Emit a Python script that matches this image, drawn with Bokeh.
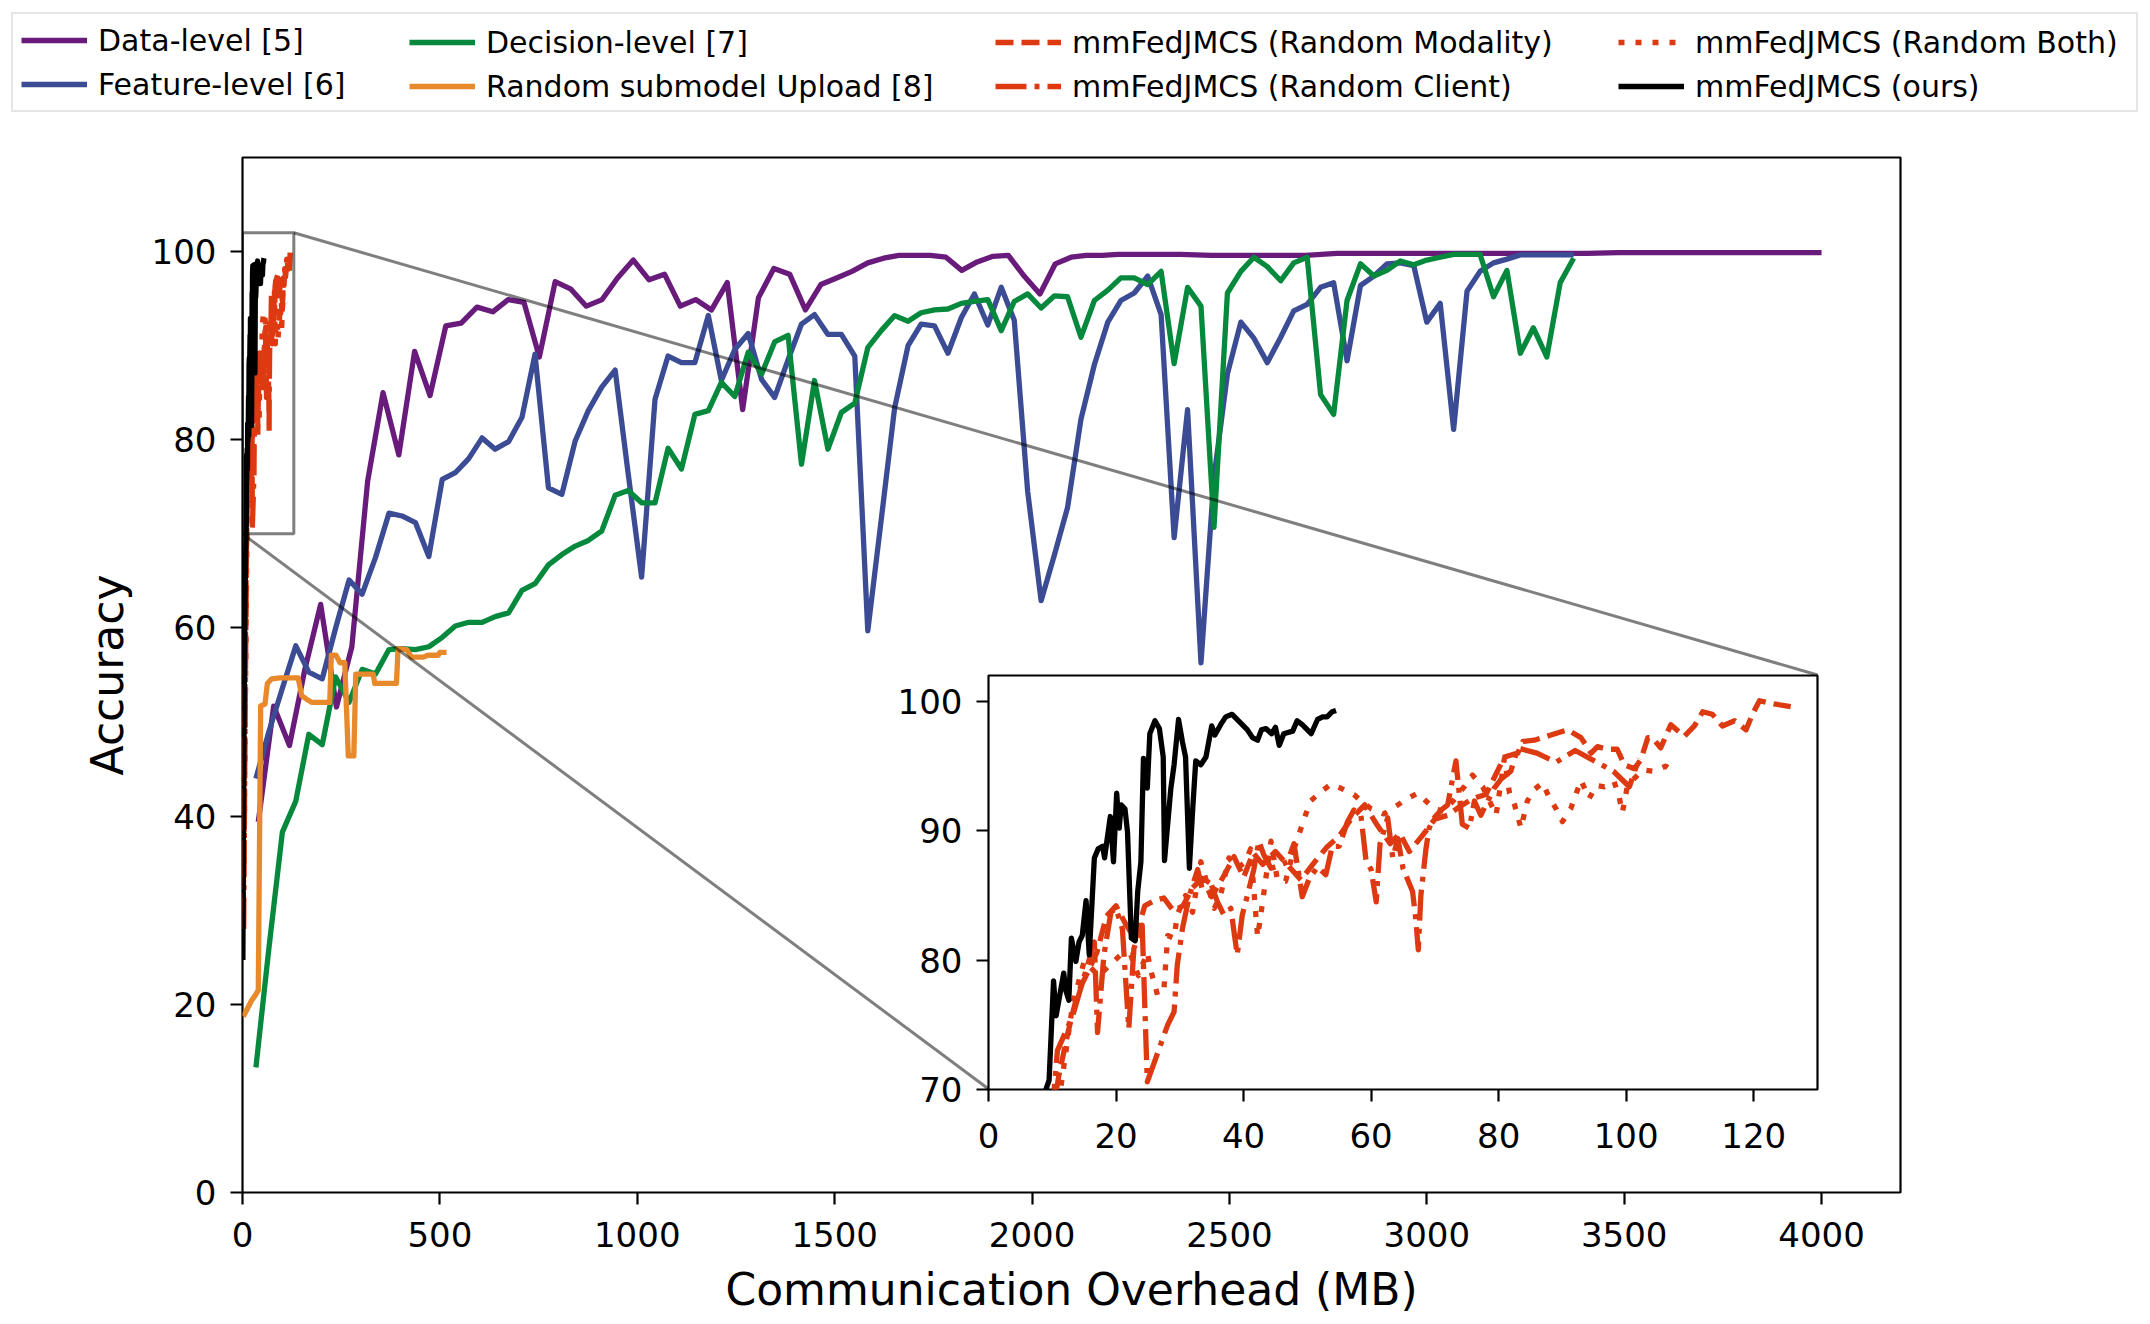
from bokeh.plotting import figure
from bokeh.models import Range1d, FixedTicker, Legend, LegendItem
from bokeh.layouts import column
from bokeh.embed import file_html
from bokeh.resources import INLINE

# ---------------------------------------------------------------- data
DATA_LEVEL_X = [40, 79, 119, 158, 198, 238, 277, 317, 356, 396, 436, 475, 515, 554, 594, 634, 673, 713,
                752, 792, 832, 871, 911, 950, 990, 1030, 1069, 1109, 1148, 1188, 1228, 1267, 1307, 1346,
                1386, 1426, 1465, 1505, 1544, 1584, 1624, 1663, 1703, 1742, 1782, 1822, 1861, 1901, 1940,
                1980, 2020, 2059, 2099, 2138, 2178, 2218, 2297, 2376, 2455, 2535, 2614, 2693, 2772, 2851,
                2931, 3010, 3089, 3168, 3248, 3327, 3406, 3485, 3564, 3644, 3723, 3802, 3881, 3960, 4000]
DATA_LEVEL_Y = [39.4, 51.7, 47.5, 55.6, 62.5, 51.6, 58.0, 75.6, 85.0, 78.4, 89.4, 84.7, 92.1, 92.4, 94.1,
                93.6, 94.9, 94.6, 88.8, 96.8, 96.0, 94.2, 94.9, 97.2, 99.1, 97.0, 97.6, 94.2, 94.9, 93.8,
                96.7, 83.2, 95.1, 98.2, 97.6, 93.8, 96.5, 97.2, 97.9, 98.8, 99.3, 99.6, 99.6, 99.6, 99.4,
                98.0, 98.9, 99.5, 99.6, 97.4, 95.5, 98.7, 99.4, 99.6, 99.6, 99.7, 99.7, 99.7, 99.6, 99.6,
                99.6, 99.6, 99.8, 99.8, 99.8, 99.8, 99.8, 99.8, 99.8, 99.8, 99.8, 99.9, 99.9, 99.9, 99.9,
                99.9, 99.9, 99.9, 99.9]

ROUND_X = [34, 67, 101, 135, 168, 202, 236, 270, 303, 337, 371, 404, 438, 472, 506, 539, 573, 607, 640,
           674, 708, 741, 775, 809, 843, 876, 910, 944, 977, 1011, 1045, 1078, 1112, 1146, 1180, 1213,
           1247, 1281, 1315, 1348, 1382, 1416, 1449, 1483, 1517, 1551, 1584, 1618, 1652, 1686, 1719,
           1753, 1787, 1821, 1854, 1888, 1922, 1955, 1989, 2023, 2057, 2090, 2124, 2158, 2192, 2225,
           2259, 2293, 2327, 2360, 2394, 2428, 2461, 2495, 2529, 2562, 2596, 2630, 2663, 2697, 2731,
           2764, 2798, 2832, 2866, 2899, 2933, 2967, 3000, 3034, 3068, 3102, 3135, 3169, 3203, 3237,
           3270, 3304, 3338, 3372]
FEATURE_LEVEL_Y = [44.0, 49.0, 53.6, 58.1, 55.3, 54.6, 60.0, 65.1, 63.6, 67.5,
                   72.2, 71.9, 71.2, 67.6, 75.8, 76.5, 78.0, 80.2, 79.0, 79.8,
                   82.4, 89.1, 74.9, 74.2, 79.9, 83.1, 85.6, 87.4, 76.4, 65.4,
                   84.3, 88.9, 88.2, 88.2, 93.2, 86.3, 89.6, 91.3, 86.4, 84.5,
                   88.5, 92.3, 93.3, 91.2, 91.2, 88.9, 59.7, 71.5, 83.4, 90.0,
                   92.3, 92.1, 89.2, 93.0, 95.5, 92.2, 96.2, 92.7, 74.5, 62.9,
                   67.8, 72.8, 82.2, 88.0, 92.5, 94.8, 95.6, 97.4, 93.3, 69.6,
                   83.2, 56.3, 76.0, 87.0, 92.5, 90.8, 88.2, 90.9, 93.7, 94.4,
                   96.2, 96.7, 88.4, 96.4, 97.4, 98.7, 98.8, 98.5, 92.5, 94.5,
                   81.1, 95.8, 97.9, 98.8, 99.2, 99.65, 99.65, 99.65, 99.65, 99.65]
DECISION_LEVEL_Y = [13.3, 26.0, 38.3, 41.6, 48.7, 47.6, 54.8, 52.1, 55.6, 55.1,
                    57.7, 57.8, 57.7, 58.0, 59.0, 60.2, 60.6, 60.6, 61.2, 61.6,
                    64.0, 64.7, 66.7, 67.8, 68.7, 69.3, 70.3, 74.1, 74.6, 73.3,
                    73.3, 79.1, 76.9, 82.7, 83.1, 86.1, 84.6, 89.3, 87.0, 90.4,
                    91.1, 77.4, 86.3, 79.0, 82.9, 83.9, 89.8, 91.6, 93.2, 92.6,
                    93.5, 93.8, 93.9, 94.5, 94.7, 94.9, 91.6, 94.7, 95.5, 94.0,
                    95.3, 95.2, 90.9, 94.8, 95.9, 97.2, 97.2, 96.5, 97.9, 88.1,
                    96.2, 94.2, 70.7, 95.6, 97.9, 99.4, 98.4, 96.9, 98.8, 99.4,
                    84.8, 82.7, 94.8, 98.7, 97.4, 98.0, 99.0, 98.6, 99.1, 99.4,
                    99.7, 99.7, 99.7, 95.2, 98.0, 89.2, 91.9, 88.8, 96.7, 99.3]

SUBMODEL_X = [2, 12, 23, 33, 40, 46, 57, 63, 74, 95, 141, 150, 163, 175, 221, 225, 237, 247, 259, 268,
              282, 287, 297, 331, 335, 390, 394, 416, 428, 458, 470, 496, 500, 517]
SUBMODEL_Y = [18.7, 19.5, 20.4, 21.0, 21.5, 51.7, 51.9, 54.1, 54.6, 54.7, 54.7, 52.8, 52.4, 52.1, 52.1,
              57.1, 57.1, 56.3, 56.3, 46.4, 46.4, 55.1, 55.1, 55.1, 54.1, 54.1, 57.8, 57.7, 56.9, 56.9,
              57.1, 57.1, 57.4, 57.4]

MODALITY_X = [2, 4, 6, 8, 10, 11, 12.5, 14, 15.5, 17, 18.5, 20, 21.5, 23, 24.5, 26, 27.5, 29, 30.5, 32,
              33.5, 35, 37, 38.5, 40, 41.5, 43, 45, 47, 49, 51, 53, 55, 57, 59, 61, 63, 64.5, 66, 68,
              70, 72, 74, 76, 78, 80.9, 83, 83.8, 85.6, 88.2, 90.8, 92.9, 94.5, 95.5, 97.1, 98.6, 99.7,
              101.3, 102.3, 103.4, 104.1, 105.4, 107.0, 109.1, 110.7, 112.0, 113.5, 115.1, 117.0, 118.8,
              119.8, 120.9, 123.2, 125.8]
MODALITY_Y = [30, 42, 52, 61, 68, 71, 74.5, 77.5, 79, 80.6, 83.4, 84.2, 82.8, 81.6, 84.2, 84.6, 84.8,
              83.8, 84.2, 85.6, 86.3, 84.9, 86.6, 88.0, 86.4, 88.3, 87.4, 88.4, 87.3, 86.2, 87.5, 88.7,
              89.6, 91.0, 92.0, 90.4, 89.0, 89.8, 88.4, 89.6, 90.9, 91.2, 91.9, 92.5, 92.8, 95.7, 96.0,
              96.9, 97.0, 97.4, 97.8, 97.2, 96.0, 96.5, 96.3, 96.3, 95.1, 94.8, 95.5, 97.2, 97.2, 96.4,
              98.2, 97.3, 98.1, 99.2, 99.0, 98.1, 98.5, 97.8, 99.0, 100.05, 99.8, 99.6]

CLIENT_X = [3, 5, 7, 9, 10.3, 10.8, 13.2, 16.6, 17.1, 18.1, 19.2, 20.0, 21.0, 22.0, 22.8, 24.1, 24.9,
            26.0, 28.1, 29.1, 29.6, 30.4, 31.5, 32.8, 33.5, 34.6, 35.9, 36.9, 38.0, 39.0, 39.8, 40.6,
            41.6, 42.4, 43.2, 44.3, 45.6, 46.9, 47.9, 49.2, 50.3, 51.6, 52.9, 53.9, 55.0, 56.3, 57.3,
            58.4, 59.2, 60.0, 60.8, 61.4, 62.6, 63.4, 64.2, 65.0, 66.5, 67.0, 67.4, 67.8, 68.6, 69.1,
            69.9, 71.0, 72.0, 73.3, 74.3, 75.4, 76.2, 77.2, 78.3, 79.3, 80.4, 81.9, 83.0, 86.0, 89.0,
            92.0, 95.0, 98.0, 100.5, 102.0]
CLIENT_Y = [28, 40, 52, 62, 70.0, 73.0, 75.7, 81.4, 74.4, 80.4, 83.7, 84.0, 82.4, 74.7, 80.9, 82.7,
            70.6, 72.1, 75.0, 76.0, 79.6, 82.4, 85.0, 87.0, 85.5, 86.3, 84.5, 83.5, 84.0, 80.4, 83.5,
            85.0, 87.0, 89.2, 88.1, 87.1, 87.3, 87.6, 89.0, 84.9, 86.3, 87.2, 86.6, 88.8, 88.8, 90.7,
            91.6, 91.2, 87.7, 87.0, 84.5, 89.0, 91.0, 87.9, 89.4, 87.1, 85.3, 83.2, 80.8, 85.0, 88.6,
            90.2, 91.0, 91.6, 92.0, 95.4, 90.5, 90.2, 92.3, 91.2, 92.3, 93.3, 94.0, 94.6, 96.4, 96.0,
            95.3, 96.2, 95.4, 94.6, 93.4, 95.6]

BOTH_X = [4, 6, 8, 10, 11.3, 13.2, 15.0, 17.3, 19.2, 20.7, 22.3, 23.5, 24.9, 25.4, 26.5, 27.5, 28.1,
          29.1, 29.6, 30.9, 32.0, 33.3, 35.4, 36.4, 37.7, 39.0, 40.3, 41.1, 42.2, 42.7, 44.3, 45.3,
          46.6, 47.9, 49.7, 50.5, 52.1, 53.7, 55.2, 57.3, 58.4, 60.0, 62.0, 64.2, 65.7, 67.3, 69.9,
          71.5, 73.0, 74.6, 75.9, 77.5, 79.6, 80.9, 81.7, 82.5, 83.5, 84.5, 85.6, 86.9, 87.9, 89.0,
          90.0, 91.3, 92.1, 92.9, 94.2, 95.3, 96.6, 98.1, 98.9, 99.4, 100.2, 102.6, 104.4, 106.2, 107.5]
BOTH_Y = [35, 45, 55, 64, 70.0, 76.6, 79.9, 78.8, 79.7, 80.4, 80.4, 78.8, 80.6, 79.3, 77.3, 77.7, 81.9,
          81.7, 83.5, 85.0, 83.7, 87.6, 84.0, 85.0, 87.9, 87.1, 87.6, 88.6, 81.8, 83.5, 89.2, 86.2,
          86.1, 88.6, 91.2, 92.3, 93.0, 93.6, 93.3, 92.8, 92.3, 91.7, 91.3, 92.0, 92.5, 92.9, 91.7,
          91.5, 92.4, 93.4, 94.3, 93.4, 91.2, 95.6, 92.9, 92.0, 90.2, 92.3, 93.2, 93.7, 92.6, 91.7,
          90.7, 91.7, 92.8, 93.9, 92.5, 93.5, 93.4, 93.8, 92.6, 91.4, 93.5, 94.7, 94.6, 95.0, 94.5]

OURS_X = [1, 2, 3, 4, 5, 6, 7, 8, 9.0, 9.5, 10.2, 10.6, 11.8, 12.1, 12.6, 13.0, 13.7, 14.2, 14.7, 15.3,
          15.8, 16.6, 17.2, 17.9, 18.2, 19.1, 19.6, 20.1, 20.5, 20.8, 21.4, 21.8, 22.4, 23.0, 23.4, 23.9,
          24.3, 24.9, 25.3, 26.1, 26.8, 27.4, 27.6, 28.6, 29.1, 29.8, 30.4, 30.9, 31.5, 32.0, 32.5, 33.3,
          34.1, 35.0, 35.5, 36.4, 37.2, 38.2, 39.6, 40.6, 41.4, 42.2, 42.8, 43.5, 44.4, 45.0, 45.6, 46.3,
          47.7, 48.4, 49.2, 50.6, 51.6, 52.4, 53.1, 53.9, 54.5]
OURS_Y = [24.7, 34, 42, 50, 56, 61, 65, 68, 70.0, 70.7, 78.4, 75.7, 79.0, 77.7, 76.9, 81.7, 79.9, 81.4,
          81.9, 84.6, 80.4, 87.9, 88.6, 88.8, 87.9, 91.1, 87.6, 92.9, 90.2, 92.0, 91.7, 89.9, 81.7, 81.5,
          85.3, 87.6, 95.6, 93.3, 97.5, 98.5, 97.9, 95.7, 87.7, 93.3, 95.1, 98.6, 96.9, 95.7, 87.1, 91.5,
          95.4, 95.1, 95.7, 98.1, 97.4, 98.2, 98.8, 99.0, 98.3, 97.8, 97.2, 97.0, 97.8, 97.9, 97.5, 98.0,
          96.6, 97.5, 97.7, 98.5, 98.2, 97.5, 98.6, 98.8, 98.8, 99.2, 99.3]

LABELS = ["Data-level [5]", "Feature-level [6]", "Decision-level [7]", "Random submodel Upload [8]",
          "mmFedJMCS (Random Modality)", "mmFedJMCS (Random Client)", "mmFedJMCS (Random Both)",
          "mmFedJMCS (ours)"]
SERIES_X = [DATA_LEVEL_X, ROUND_X, ROUND_X, SUBMODEL_X, MODALITY_X, CLIENT_X, BOTH_X, OURS_X]
SERIES_Y = [DATA_LEVEL_Y, FEATURE_LEVEL_Y, DECISION_LEVEL_Y, SUBMODEL_Y, MODALITY_Y, CLIENT_Y, BOTH_Y, OURS_Y]
INSET_SERIES = LABELS[4:]

X_RANGE = (0, 4200)
Y_RANGE = (0, 110)
X_TICKS = [0, 500, 1000, 1500, 2000, 2500, 3000, 3500, 4000]
Y_TICKS = [0, 20, 40, 60, 80, 100]
INSET_X_RANGE = (0, 130)
INSET_Y_RANGE = (70, 102)
INSET_X_TICKS = [0, 20, 40, 60, 80, 100, 120]
INSET_Y_TICKS = [70, 80, 90, 100]
INSET_BOUNDS = (0.45, 0.10, 0.50, 0.40)   # axes fraction: left, bottom, width, height

for xs, ys in zip(SERIES_X, SERIES_Y):
    assert len(xs) == len(ys), (len(xs), len(ys))

# ---------------------------------------------------------------- styles / layout
FONT = "DejaVu Sans"
COLORS = ["#691b7c", "#3b4c94", "#06893d", "#e8892b", "#dd3a12", "#dd3a12", "#dd3a12", "#000000"]
DASHES = ["solid", "solid", "solid", "solid", "18 8", "31 8 5 8", "6 11", "solid"]
LW = 5.3

PAGE_W, PAGE_H = 2140, 1320
LEG_FIG_H = 130
W = PAGE_W
H = PAGE_H - LEG_FIG_H
FRAME_LEFT, FRAME_RIGHT = 242, 1900          # page px
FRAME_TOP, FRAME_BOTTOM = 157, 1192          # page px
MB_L = FRAME_LEFT
MB_R = W - FRAME_RIGHT
MB_T = FRAME_TOP - LEG_FIG_H
MB_B = (LEG_FIG_H + H) - FRAME_BOTTOM
FRAME_W = FRAME_RIGHT - FRAME_LEFT
FRAME_H = FRAME_BOTTOM - FRAME_TOP


def style_axes(fig, xticks, yticks, tick_size, xstand, ystand):
    fig.frame_align = False
    fig.xgrid.visible = False
    fig.ygrid.visible = False
    fig.outline_line_color = "black"
    fig.outline_line_width = 2.2
    fig.outline_line_alpha = 1.0
    fig.xaxis.ticker = FixedTicker(ticks=xticks)
    fig.yaxis.ticker = FixedTicker(ticks=yticks)
    for ax, st in ((fig.xaxis[0], xstand), (fig.yaxis[0], ystand)):
        ax.axis_line_color = None
        ax.major_tick_out = 12
        ax.major_tick_in = 0
        ax.major_tick_line_width = 2.2
        ax.major_tick_line_color = "black"
        ax.minor_tick_line_color = None
        ax.major_label_text_font = FONT
        ax.major_label_text_font_size = tick_size
        ax.major_label_text_color = "black"
        ax.major_label_standoff = st
        ax.axis_label_text_font = FONT
        ax.axis_label_text_font_style = "normal"
        ax.axis_label_text_font_size = "44px"
        ax.axis_label_text_color = "black"


# ---------------------------------------------------------------- main plot
p = figure(width=W, height=H, x_range=Range1d(*X_RANGE), y_range=Range1d(*Y_RANGE),
           output_backend="svg", toolbar_location=None,
           min_border_left=MB_L, min_border_right=MB_R, min_border_top=MB_T, min_border_bottom=MB_B)
p.background_fill_color = "white"
p.border_fill_color = "white"
style_axes(p, X_TICKS, Y_TICKS, "34px", 17, 14)
p.xaxis.axis_label = "Communication Overhead (MB)"
p.yaxis.axis_label = "Accuracy"
p.xaxis.axis_label_standoff = 14
p.yaxis.axis_label_standoff = 16

for label, xs, ys, color, dash in zip(LABELS, SERIES_X, SERIES_Y, COLORS, DASHES):
    p.line(xs, ys, line_color=color, line_width=LW, line_dash=dash, line_join="round")

# zoom indicator + connectors
ix0, ix1 = INSET_X_RANGE
iy0, iy1 = INSET_Y_RANGE
bx, by, bw, bh = INSET_BOUNDS
xs0, xs1 = X_RANGE
ys0, ys1 = Y_RANGE
p.quad(left=[ix0], right=[ix1], bottom=[iy0], top=[iy1], fill_alpha=0,
       line_color="black", line_alpha=0.5, line_width=3)
p.segment(x0=[ix1, ix0], y0=[iy1, iy0],
          x1=[xs0 + (bx + bw) * (xs1 - xs0), xs0 + bx * (xs1 - xs0)],
          y1=[ys0 + (by + bh) * (ys1 - ys0), ys0 + by * (ys1 - ys0)],
          line_color="black", line_alpha=0.5, line_width=3)

# ---------------------------------------------------------------- legend strip (own figure on top)
# The strip's ranges lie outside all data, so its copies of the series only feed the legend glyphs.
lf = figure(width=W, height=LEG_FIG_H, x_range=Range1d(-2, -1), y_range=Range1d(-2, -1),
            x_axis_type=None, y_axis_type=None, output_backend="svg", toolbar_location=None,
            min_border=0, min_border_left=0, min_border_right=0, min_border_top=0, min_border_bottom=0)
lf.frame_align = False
lf.outline_line_color = None
lf.xgrid.visible = False
lf.ygrid.visible = False
lf.background_fill_color = "white"
lf.border_fill_color = "white"
leg_renderers = []
for xs, ys, color, dash in zip(SERIES_X, SERIES_Y, COLORS, DASHES):
    leg_renderers.append(lf.line(xs, ys, line_color=color, line_width=LW, line_dash=dash))

LEG_PAD, LEG_SPACING, GLYPH_W, ITEM_H, STANDOFF = 8, 8, 66, 36, 11
LEG_BOX_W = 2123
LEG_BOX_BOTTOM = 112                          # page px
LEG_Y = LEG_FIG_H - LEG_BOX_BOTTOM
COL_LEFTS = [11, 401, 987, 1610]              # page px, left edge of each legend column box
COLUMNS = [[0, 1], [2, 3], [4, 5], [6, 7]]
for ci, (left, idx) in enumerate(zip(COL_LEFTS, COLUMNS)):
    items = [LegendItem(label=LABELS[i], renderers=[leg_renderers[i]]) for i in idx]
    kw = dict(items=items, location=(left, LEG_Y), orientation="vertical",
              glyph_width=GLYPH_W, glyph_height=ITEM_H, label_height=ITEM_H,
              label_standoff=STANDOFF, spacing=LEG_SPACING, padding=LEG_PAD, margin=0,
              label_text_font=FONT, label_text_font_size="30px", label_text_color="black")
    if ci == 0:
        kw.update(border_line_color="#cccccc", border_line_width=2.8,
                  background_fill_color="white", background_fill_alpha=0.8,
                  label_width=LEG_BOX_W - 2 * LEG_PAD - GLYPH_W - STANDOFF)
    else:
        kw.update(border_line_color="white", border_line_alpha=0, background_fill_alpha=0)
    lf.add_layout(Legend(**kw), "center")

# ---------------------------------------------------------------- inset
IMB_L, IMB_R, IMB_T, IMB_B = 100, 10, 10, 80
IFW = int(round(bw * FRAME_W))
IFH = int(round(bh * FRAME_H))
ins = figure(width=IMB_L + IFW + IMB_R, height=IMB_T + IFH + IMB_B,
             x_range=Range1d(*INSET_X_RANGE), y_range=Range1d(*INSET_Y_RANGE),
             output_backend="svg", toolbar_location=None,
             min_border_left=IMB_L, min_border_right=IMB_R, min_border_top=IMB_T, min_border_bottom=IMB_B)
ins.background_fill_color = "white"
ins.border_fill_alpha = 0
style_axes(ins, INSET_X_TICKS, INSET_Y_TICKS, "34px", 21, 14)
for label, xs, ys, color, dash in zip(LABELS, SERIES_X, SERIES_Y, COLORS, DASHES):
    if label in INSET_SERIES:
        ins.line(xs, ys, line_color=color, line_width=LW, line_dash=dash, line_join="round")

ins_left = FRAME_LEFT + bx * FRAME_W - IMB_L
ins_top = FRAME_TOP + (1 - by - bh) * FRAME_H - IMB_T
ins.styles = {"position": "absolute", "left": f"{ins_left:.1f}px", "top": f"{ins_top:.1f}px",
              "z-index": "5"}

layout = column(lf, p, ins, spacing=0)
open("out.html", "w").write(file_html(layout, INLINE))
